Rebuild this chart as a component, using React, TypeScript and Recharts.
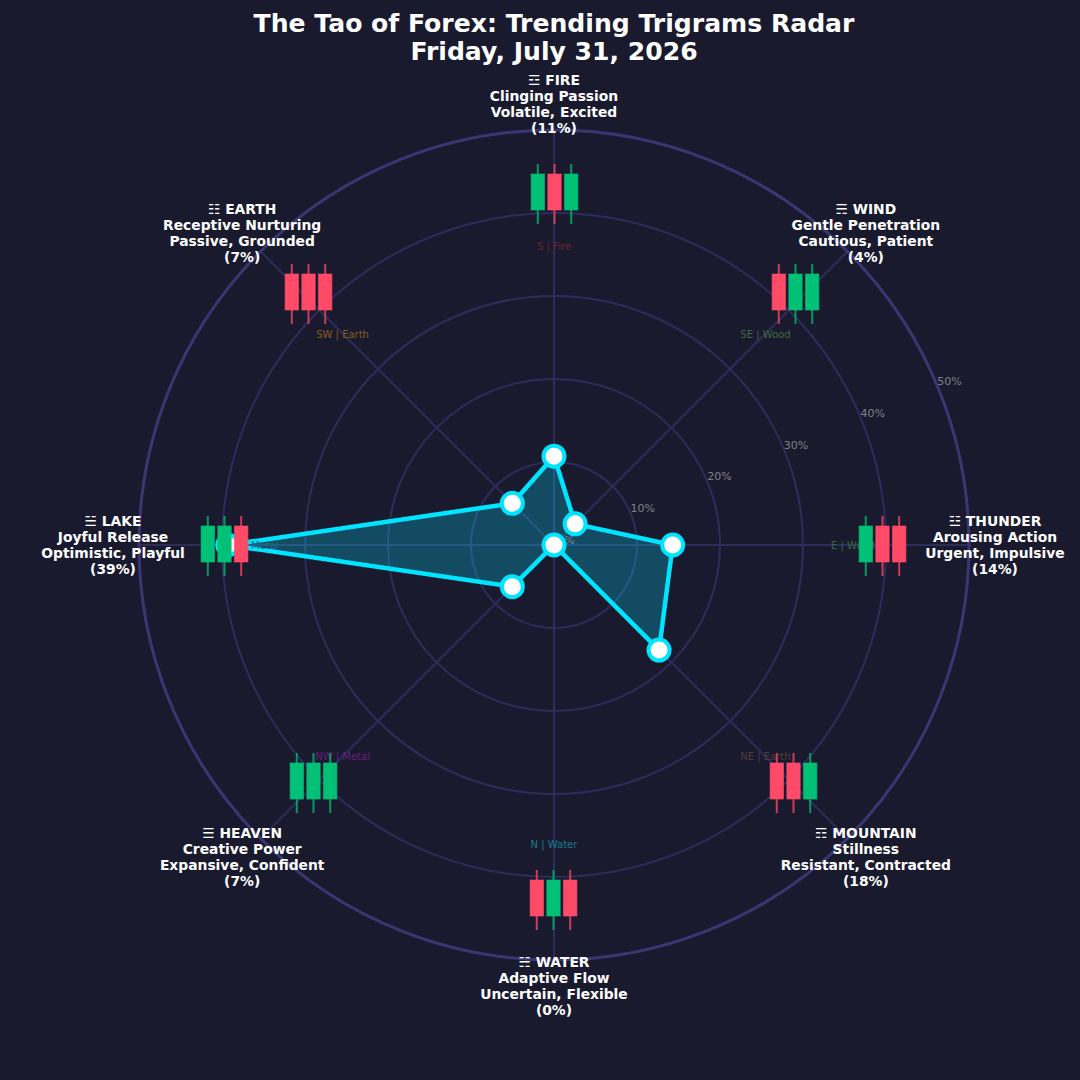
import { PolarAngleAxis, PolarGrid, PolarRadiusAxis, Radar, RadarChart } from "recharts"

const trigrams = ["FIRE", "WIND", "THUNDER", "MOUNTAIN", "WATER", "HEAVEN", "LAKE", "EARTH"]
const symbols = ["☲", "☴", "☳", "☶", "☵", "☰", "☱", "☷"]
const qualities = [
	"Clinging Passion",
	"Gentle Penetration",
	"Arousing Action",
	"Stillness",
	"Adaptive Flow",
	"Creative Power",
	"Joyful Release",
	"Receptive Nurturing",
]
const moods = [
	"Volatile, Excited",
	"Cautious, Patient",
	"Urgent, Impulsive",
	"Resistant, Contracted",
	"Uncertain, Flexible",
	"Expansive, Confident",
	"Optimistic, Playful",
	"Passive, Grounded",
]
const sectors = ["S | Fire", "SE | Wood", "E | Wood", "NE | Earth", "N | Water", "NW | Metal", "W | Metal", "SW | Earth"]
const sectorColors = ["#6e2432", "#3f6a3c", "#35693f", "#4f3c3c", "#157a8e", "#641f7d", "#1f6a8a", "#8a5a1e"]
const shares = [10.7, 3.6, 14.3, 17.9, 0, 7.1, 39.3, 7.1]
// 1 = green candle, 0 = red candle
const candles = [
	[1, 0, 1],
	[0, 1, 1],
	[1, 0, 0],
	[0, 0, 1],
	[0, 1, 0],
	[1, 1, 1],
	[1, 1, 0],
	[0, 0, 0],
]
const radiusTicks = [0, 10, 20, 30, 40, 50]

const chartData = trigrams.map((name, i) => ({ name, share: shares[i] }))

const CX = 554
const CY = 545
const OUTER = 415
const LABEL_R = 441
const SECTOR_R = 299
const CANDLE_OFFSET = [
	[0.5, -353],
	[241.5, -253],
	[328.5, -1],
	[239.5, 236],
	[-0.5, 353],
	[-240.5, 236],
	[-329.5, -1],
	[-245.5, -253],
]

const GREEN = "#00c176"
const RED = "#ff4a68"
const font = "'DejaVu Sans', sans-serif"

function spoke(index: number, r: number) {
	const a = (index * Math.PI) / 4
	return { x: CX + r * Math.sin(a), y: CY - r * Math.cos(a) }
}

function SectorTick({ index }: any) {
	const p = spoke(index, SECTOR_R)
	return (
		<text x={p.x} y={p.y + 4} textAnchor="middle" fontSize={10} fontFamily={font} fill={sectorColors[index]}>
			{sectors[index]}
		</text>
	)
}

function TrigramTick({ index }: any) {
	const p = spoke(index, LABEL_R)
	const [dx, dy] = CANDLE_OFFSET[index]
	const lines = [
		`${symbols[index]} ${trigrams[index]}`,
		qualities[index],
		moods[index],
		`(${Math.round(shares[index])}%)`,
	]
	return (
		<g>
			{candles[index].map((up, i) => {
				const x = CX + dx + (i - 1) * 16.7
				const y = CY + dy
				const color = up ? GREEN : RED
				return (
					<g key={i}>
						<line x1={x} x2={x} y1={y - 28} y2={y + 32} stroke={color} strokeOpacity={0.75} strokeWidth={2} />
						<rect x={x - 6.7} y={y - 18} width={13.4} height={36} fill={color} stroke={color} strokeOpacity={0.6} />
					</g>
				)
			})}
			{lines.map((line, i) => (
				<text
					key={i}
					x={p.x}
					y={p.y - 19 + i * 16}
					textAnchor="middle"
					fontSize={13.85}
					fontWeight="bold"
					fontFamily={font}
					fill="#ffffff"
				>
					{line}
				</text>
			))}
		</g>
	)
}

function RadiusTick({ x, y, payload }: any) {
	const a = Math.PI / 8
	return (
		<text
			x={x + 13 * Math.cos(a)}
			y={y - 13 * Math.sin(a) + 4}
			textAnchor="middle"
			fontSize={11}
			fontFamily={font}
			fill="#808088"
		>
			{payload.value}%
		</text>
	)
}

const layer = { position: "absolute", left: 0, top: 0 } as const
const chartBox = { width: 1080, height: 1080, data: chartData, cx: CX, cy: CY, innerRadius: 0, outerRadius: OUTER, margin: { top: 0, right: 0, bottom: 0, left: 0 } }

export default function App() {
	return (
		<div style={{ position: "absolute", left: 0, top: 0, width: 1080, height: 1080, background: "#1a1a2e", overflow: "hidden" }}>
			<div
				style={{
					position: "absolute",
					left: 54,
					top: 10,
					width: 1000,
					textAlign: "center",
					color: "#ffffff",
					fontFamily: font,
					fontWeight: "bold",
					fontSize: 25.1,
					lineHeight: "28px",
				}}
			>
				The Tao of Forex: Trending Trigrams Radar
				<br />
				Friday, July 31, 2026
			</div>
			<RadarChart {...chartBox} style={layer}>
				<PolarGrid gridType="circle" stroke="#2e2c5a" strokeWidth={2} />
				<PolarGrid gridType="circle" radialLines={false} polarRadius={[OUTER]} stroke="#3a3672" strokeWidth={3} />
				<PolarRadiusAxis
					angle={22.5}
					domain={[0, 50]}
					ticks={radiusTicks as any}
					tickCount={6}
					axisLine={false}
					tickLine={false}
					tick={RadiusTick}
				/>
				<PolarAngleAxis dataKey="name" tick={SectorTick} tickLine={false} axisLine={false} />
				<Radar
					dataKey="share"
					stroke="#00e5ff"
					strokeWidth={4.5}
					fill="#00e5ff"
					fillOpacity={0.25}
					dot={{ r: 10.5, fill: "#ffffff", stroke: "#00e5ff", strokeWidth: 4, fillOpacity: 1 }}
					isAnimationActive={false}
				/>
			</RadarChart>
			{/* second chart on top: candles have to sit over the radar dots */}
			<RadarChart {...chartBox} style={layer}>
				<PolarAngleAxis dataKey="name" tick={TrigramTick} tickLine={false} axisLine={false} />
			</RadarChart>
		</div>
	)
}
